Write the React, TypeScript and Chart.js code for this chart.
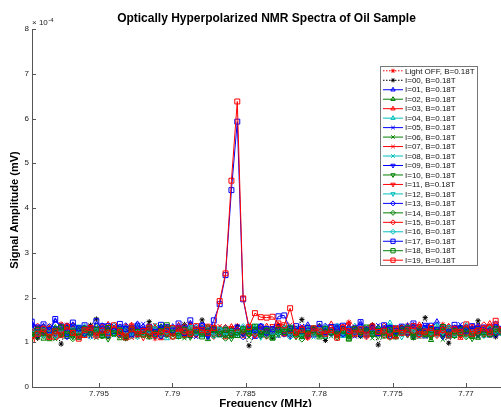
import React, { useEffect, useRef } from 'react';
import { Chart, registerables } from 'chart.js';
import { drawPoint } from 'chart.js/helpers';

Chart.register(...registerables);

// Frequency (MHz) of every sample
const FREQUENCIES = [
  7.79958, 7.79918, 7.79878, 7.79838, 7.79798, 7.79758, 7.79718, 7.79678, 7.79638, 7.79598,
  7.79558, 7.79518, 7.79478, 7.79438, 7.79398, 7.79358, 7.79318, 7.79278, 7.79238, 7.79198,
  7.79158, 7.79118, 7.79078, 7.79038, 7.78998, 7.78958, 7.78918, 7.78878, 7.78838, 7.78798,
  7.78758, 7.78718, 7.78678, 7.78638, 7.78598, 7.78558, 7.78518, 7.78478, 7.78438, 7.78398,
  7.78358, 7.78318, 7.78278, 7.78238, 7.78198, 7.78158, 7.78118, 7.78078, 7.78038, 7.77998,
  7.77958, 7.77918, 7.77878, 7.77838, 7.77798, 7.77758, 7.77718, 7.77678, 7.77638, 7.77598,
  7.77558, 7.77518, 7.77478, 7.77438, 7.77398, 7.77358, 7.77318, 7.77278, 7.77238, 7.77198,
  7.77158, 7.77118, 7.77078, 7.77038, 7.76998, 7.76958, 7.76918, 7.76878, 7.76838, 7.76798,
  7.76758,
];

// Signal amplitude, in units of 1e-4 mV
const LIGHT_OFF = [
  1.18, 1.32, 1.25, 1.10, 1.28, 1.41, 1.22, 1.15, 1.30, 1.24,
  1.36, 1.19, 1.27, 1.12, 1.33, 1.21, 1.29, 1.38, 1.16, 1.25,
  1.31, 1.08, 1.26, 1.35, 1.20, 1.14, 1.29, 1.42, 1.23, 1.17,
  1.34, 1.26, 1.19, 1.30, 1.24, 1.37, 1.15, 1.28, 1.21, 1.33,
  1.12, 1.27, 1.39, 1.22, 1.18, 1.31, 1.25, 1.09, 1.29, 1.36,
  1.20, 1.26, 1.14, 1.32, 1.45, 1.23, 1.17, 1.28, 1.35, 1.19,
  1.24, 1.30, 1.11, 1.27, 1.38, 1.22, 1.16, 1.33, 1.25, 1.29,
  1.40, 1.18, 1.26, 1.13, 1.31, 1.24, 1.37, 1.20, 1.28, 1.15, 1.32,
];
const I00 = [
  1.22, 1.09, 1.30, 1.17, 1.26, 0.96, 1.35, 1.20, 1.13, 1.28,
  1.38, 1.52, 1.24, 1.15, 1.31, 1.19, 1.08, 1.27, 1.34, 1.21,
  1.46, 1.25, 1.12, 1.29, 1.18, 1.33, 1.40, 1.23, 1.16, 1.50,
  1.26, 1.20, 1.31, 1.14, 1.27, 1.35, 1.22, 0.92, 1.18, 1.30,
  1.25, 1.11, 1.37, 1.24, 1.19, 1.28, 1.51, 1.16, 1.32, 1.21,
  1.04, 1.27, 1.34, 1.18, 1.23, 1.30, 1.13, 1.26, 1.39, 0.94,
  1.22, 1.29, 1.17, 1.35, 1.24, 1.10, 1.31, 1.55, 1.20, 1.27,
  1.15, 0.98, 1.26, 1.33, 1.21, 1.18, 1.48, 1.24, 1.30, 1.12, 1.28,
];
const I01 = [
  1.42, 1.30, 1.36, 1.25, 1.48, 1.33, 1.21, 1.39, 1.27, 1.18,
  1.31, 1.24, 1.37, 1.20, 1.29, 1.15, 1.34, 1.26, 1.41, 1.22,
  1.17, 1.32, 1.28, 1.19, 1.35, 1.23, 1.30, 1.14, 1.27, 1.38,
  1.21, 1.29, 1.16, 1.33, 1.25, 1.19, 1.31, 1.24, 1.12, 1.36,
  1.28, 1.20, 1.34, 1.26, 1.18, 1.30, 1.23, 1.39, 1.15, 1.27,
  1.32, 1.21, 1.29, 1.17, 1.35, 1.24, 1.42, 1.19, 1.28, 1.33,
  1.22, 1.16, 1.30, 1.26, 1.37, 1.20, 1.25, 1.13, 1.31, 1.46,
  1.23, 1.29, 1.18, 1.34, 1.27, 1.21, 1.36, 1.24, 1.15, 1.30, 1.26,
];
const I02 = [
  1.15, 1.27, 1.08, 1.21, 1.33, 1.19, 1.12, 1.25, 1.30, 1.17,
  1.23, 1.36, 1.14, 1.28, 1.20, 1.09, 1.26, 1.32, 1.18, 1.24,
  1.11, 1.29, 1.35, 1.16, 1.22, 1.27, 1.13, 1.31, 1.20, 1.25,
  1.07, 1.23, 1.30, 1.18, 1.26, 1.14, 1.29, 1.21, 1.34, 1.17,
  1.24, 1.10, 1.28, 1.19, 1.32, 1.23, 1.15, 1.27, 1.20, 1.36,
  1.12, 1.25, 1.18, 1.30, 1.08, 1.22, 1.28, 1.16, 1.24, 1.31,
  1.19, 1.26, 1.11, 1.29, 1.21, 1.34, 1.17, 1.23, 1.05, 1.27,
  1.20, 1.32, 1.14, 1.25, 1.18, 1.29, 1.10, 1.24, 1.33, 1.19, 1.26,
];
const I03 = [
  1.25, 1.18, 1.34, 1.22, 1.10, 1.29, 1.37, 1.20, 1.26, 1.14,
  1.31, 1.23, 1.17, 1.40, 1.28, 1.21, 1.35, 1.13, 1.27, 1.19,
  1.32, 1.24, 1.09, 1.30, 1.22, 1.38, 1.16, 1.26, 1.21, 1.33,
  1.18, 1.29, 1.25, 1.11, 1.35, 1.23, 1.30, 1.19, 1.27, 1.14,
  1.36, 1.22, 1.28, 1.17, 1.31, 1.25, 1.12, 1.34, 1.20, 1.29,
  1.24, 1.41, 1.18, 1.26, 1.33, 1.15, 1.28, 1.22, 1.37, 1.19,
  1.30, 1.25, 1.13, 1.32, 1.21, 1.27, 1.39, 1.16, 1.24, 1.31,
  1.20, 1.35, 1.23, 1.10, 1.28, 1.34, 1.18, 1.26, 1.42, 1.21, 1.29,
];
const I04 = [
  1.28, 1.21, 1.15, 1.33, 1.26, 1.19, 1.30, 1.24, 1.12, 1.35,
  1.22, 1.29, 1.17, 1.26, 1.38, 1.20, 1.14, 1.31, 1.25, 1.18,
  1.34, 1.27, 1.21, 1.09, 1.30, 1.24, 1.36, 1.19, 1.28, 1.15,
  1.25, 1.32, 1.20, 1.27, 1.13, 1.29, 1.23, 1.37, 1.18, 1.26,
  1.31, 1.16, 1.24, 1.35, 1.21, 1.28, 1.11, 1.30, 1.25, 1.19,
  1.33, 1.22, 1.27, 1.14, 1.29, 1.36, 1.20, 1.24, 1.17, 1.31,
  1.26, 1.43, 1.19, 1.28, 1.23, 1.15, 1.32, 1.25, 1.20, 1.34,
  1.27, 1.12, 1.30, 1.22, 1.38, 1.17, 1.25, 1.31, 1.19, 1.27, 1.23,
];
const I05 = [
  1.20, 1.34, 1.27, 1.16, 1.31, 1.24, 1.39, 1.18, 1.29, 1.22,
  1.13, 1.33, 1.26, 1.20, 1.36, 1.23, 1.30, 1.15, 1.28, 1.41,
  1.19, 1.25, 1.32, 1.17, 1.27, 1.21, 1.35, 1.24, 1.12, 1.30,
  1.26, 1.37, 1.20, 1.29, 1.16, 1.31, 1.23, 1.28, 1.18, 1.34,
  1.22, 1.27, 1.14, 1.32, 1.25, 1.19, 1.36, 1.21, 1.30, 1.24,
  1.17, 1.29, 1.35, 1.22, 1.26, 1.13, 1.31, 1.27, 1.20, 1.38,
  1.24, 1.18, 1.33, 1.25, 1.29, 1.16, 1.23, 1.36, 1.21, 1.28,
  1.32, 1.19, 1.26, 1.40, 1.22, 1.30, 1.15, 1.27, 1.24, 1.35, 1.20,
];
const I06 = [
  1.12, 1.24, 1.19, 1.30, 1.07, 1.26, 1.21, 1.15, 1.33, 1.18,
  1.25, 1.10, 1.28, 1.22, 1.16, 1.31, 1.20, 1.27, 1.13, 1.24,
  1.29, 1.18, 1.35, 1.21, 1.14, 1.26, 1.09, 1.30, 1.23, 1.17,
  1.28, 1.20, 1.25, 1.32, 1.15, 1.22, 1.27, 1.11, 1.29, 1.24,
  1.19, 1.33, 1.16, 1.26, 1.21, 1.30, 1.12, 1.25, 1.18, 1.28,
  1.23, 1.14, 1.31, 1.20, 1.27, 1.17, 1.24, 1.34, 1.09, 1.26,
  1.21, 1.28, 1.16, 1.23, 1.30, 1.19, 1.25, 1.13, 1.29, 1.22,
  1.06, 1.27, 1.20, 1.32, 1.17, 1.24, 1.11, 1.28, 1.23, 1.19, 1.25,
];
const I07 = [
  1.31, 1.19, 1.26, 1.37, 1.22, 1.14, 1.29, 1.33, 1.21, 1.27,
  1.16, 1.30, 1.24, 1.35, 1.18, 1.28, 1.23, 1.10, 1.32, 1.26,
  1.20, 1.38, 1.25, 1.17, 1.29, 1.34, 1.22, 1.27, 1.15, 1.31,
  1.24, 1.20, 1.36, 1.28, 1.19, 1.25, 1.13, 1.30, 1.23, 1.33,
  1.27, 1.18, 1.29, 1.24, 1.39, 1.21, 1.26, 1.16, 1.32, 1.25,
  1.19, 1.30, 1.23, 1.28, 1.14, 1.35, 1.26, 1.21, 1.29, 1.17,
  1.33, 1.24, 1.27, 1.20, 1.31, 1.25, 1.12, 1.28, 1.36, 1.22,
  1.26, 1.18, 1.32, 1.27, 1.21, 1.37, 1.24, 1.15, 1.30, 1.25, 1.22,
];
const I08 = [
  1.23, 1.30, 1.17, 1.26, 1.20, 1.34, 1.28, 1.13, 1.25, 1.31,
  1.19, 1.27, 1.22, 1.15, 1.33, 1.24, 1.29, 1.18, 1.36, 1.21,
  1.26, 1.12, 1.30, 1.23, 1.28, 1.17, 1.32, 1.25, 1.20, 1.35,
  1.22, 1.27, 1.14, 1.29, 1.24, 1.31, 1.19, 1.26, 1.37, 1.21,
  1.28, 1.16, 1.25, 1.30, 1.20, 1.33, 1.23, 1.27, 1.11, 1.29,
  1.24, 1.19, 1.32, 1.26, 1.21, 1.28, 1.15, 1.34, 1.22, 1.27,
  1.18, 1.30, 1.25, 1.20, 1.35, 1.23, 1.28, 1.16, 1.26, 1.21,
  1.31, 1.24, 1.17, 1.29, 1.33, 1.20, 1.26, 1.22, 1.14, 1.28, 1.25,
];
const I09 = [
  1.35, 1.22, 1.29, 1.18, 1.31, 1.26, 1.13, 1.28, 1.34, 1.20,
  1.27, 1.23, 1.38, 1.16, 1.25, 1.30, 1.21, 1.33, 1.19, 1.27,
  1.24, 1.15, 1.29, 1.36, 1.22, 1.26, 1.31, 1.18, 1.24, 1.28,
  1.12, 1.30, 1.25, 1.21, 1.27, 1.35, 1.19, 1.23, 1.29, 1.17,
  1.32, 1.25, 1.20, 1.28, 1.14, 1.26, 1.33, 1.22, 1.27, 1.19,
  1.30, 1.24, 1.37, 1.18, 1.25, 1.21, 1.29, 1.15, 1.31, 1.26,
  1.20, 1.34, 1.23, 1.27, 1.17, 1.30, 1.24, 1.39, 1.21, 1.26,
  1.13, 1.28, 1.33, 1.22, 1.25, 1.19, 1.31, 1.27, 1.23, 1.36, 1.24,
];
const I10 = [
  1.09, 1.21, 1.28, 1.15, 1.24, 1.18, 1.31, 1.12, 1.26, 1.20,
  1.29, 1.16, 1.23, 1.07, 1.27, 1.21, 1.14, 1.30, 1.19, 1.25,
  1.13, 1.28, 1.22, 1.17, 1.32, 1.20, 1.26, 1.11, 1.24, 1.19,
  1.30, 1.15, 1.27, 1.22, 1.08, 1.25, 1.18, 1.29, 1.21, 1.14,
  1.26, 1.31, 1.17, 1.23, 1.28, 1.12, 1.25, 1.20, 1.33, 1.16,
  1.22, 1.27, 1.10, 1.24, 1.19, 1.30, 1.15, 1.26, 1.21, 1.13,
  1.28, 1.18, 1.25, 1.32, 1.16, 1.23, 1.20, 1.29, 1.11, 1.24,
  1.19, 1.26, 1.14, 1.30, 1.22, 1.08, 1.27, 1.17, 1.25, 1.21, 1.28,
];
const I11 = [
  1.27, 1.33, 1.20, 1.25, 1.16, 1.30, 1.23, 1.38, 1.19, 1.28,
  1.22, 1.14, 1.32, 1.26, 1.21, 1.35, 1.17, 1.29, 1.24, 1.10,
  1.31, 1.25, 1.19, 1.28, 1.34, 1.22, 1.16, 1.30, 1.26, 1.21,
  1.37, 1.24, 1.18, 1.27, 1.32, 1.20, 1.29, 1.23, 1.15, 1.31,
  1.25, 1.36, 1.21, 1.28, 1.17, 1.24, 1.30, 1.13, 1.27, 1.33,
  1.22, 1.18, 1.29, 1.25, 1.40, 1.20, 1.26, 1.31, 1.19, 1.24,
  1.15, 1.28, 1.34, 1.22, 1.27, 1.20, 1.36, 1.24, 1.18, 1.30,
  1.25, 1.21, 1.33, 1.16, 1.28, 1.23, 1.29, 1.19, 1.35, 1.26, 1.20,
];
const I12 = [
  1.18, 1.26, 1.32, 1.21, 1.14, 1.28, 1.24, 1.19, 1.35, 1.22,
  1.27, 1.15, 1.30, 1.23, 1.18, 1.26, 1.33, 1.20, 1.12, 1.29,
  1.25, 1.31, 1.17, 1.24, 1.28, 1.13, 1.26, 1.34, 1.21, 1.19,
  1.27, 1.22, 1.30, 1.16, 1.25, 1.20, 1.32, 1.24, 1.28, 1.11,
  1.23, 1.29, 1.18, 1.26, 1.35, 1.21, 1.17, 1.28, 1.24, 1.30,
  1.14, 1.27, 1.22, 1.19, 1.31, 1.25, 1.20, 1.29, 1.16, 1.23,
  1.33, 1.21, 1.26, 1.12, 1.28, 1.24, 1.19, 1.30, 1.25, 1.17,
  1.22, 1.34, 1.27, 1.20, 1.15, 1.29, 1.23, 1.31, 1.18, 1.26, 1.21,
];
const I13 = [
  1.30, 1.17, 1.24, 1.35, 1.20, 1.27, 1.13, 1.31, 1.25, 1.19,
  1.33, 1.22, 1.28, 1.16, 1.26, 1.21, 1.37, 1.24, 1.18, 1.30,
  1.23, 1.29, 1.14, 1.27, 1.20, 1.32, 1.25, 1.19, 1.34, 1.22,
  1.16, 1.28, 1.24, 1.31, 1.21, 1.26, 1.12, 1.29, 1.23, 1.35,
  1.20, 1.27, 1.33, 1.18, 1.25, 1.22, 1.30, 1.15, 1.28, 1.24,
  1.36, 1.21, 1.26, 1.19, 1.31, 1.23, 1.17, 1.29, 1.25, 1.20,
  1.27, 1.14, 1.32, 1.24, 1.21, 1.38, 1.19, 1.26, 1.30, 1.23,
  1.28, 1.16, 1.25, 1.21, 1.34, 1.27, 1.20, 1.24, 1.29, 1.17, 1.26,
];
const I14 = [
  1.20, 1.13, 1.27, 1.22, 1.29, 1.16, 1.24, 1.08, 1.26, 1.31,
  1.18, 1.23, 1.14, 1.28, 1.21, 1.25, 1.10, 1.29, 1.19, 1.24,
  1.17, 1.30, 1.22, 1.26, 1.12, 1.27, 1.20, 1.15, 1.28, 1.23,
  1.33, 1.19, 1.24, 1.09, 1.26, 1.21, 1.29, 1.17, 1.25, 1.22,
  1.14, 1.28, 1.20, 1.31, 1.18, 1.24, 1.07, 1.27, 1.22, 1.16,
  1.29, 1.23, 1.19, 1.26, 1.13, 1.30, 1.21, 1.25, 1.18, 1.32,
  1.24, 1.11, 1.27, 1.20, 1.26, 1.15, 1.29, 1.22, 1.17, 1.25,
  1.30, 1.19, 1.23, 1.28, 1.12, 1.26, 1.21, 1.16, 1.27, 1.24, 1.20,
];
const I15 = [
  1.24, 1.36, 1.21, 1.29, 1.18, 1.33, 1.26, 1.22, 1.14, 1.31,
  1.27, 1.19, 1.34, 1.24, 1.30, 1.17, 1.25, 1.38, 1.21, 1.28,
  1.15, 1.32, 1.26, 1.20, 1.29, 1.23, 1.35, 1.18, 1.27, 1.22,
  1.30, 1.13, 1.25, 1.33, 1.19, 1.28, 1.24, 1.31, 1.16, 1.27,
  1.22, 1.29, 1.37, 1.20, 1.26, 1.14, 1.32, 1.25, 1.19, 1.30,
  1.23, 1.27, 1.17, 1.34, 1.24, 1.29, 1.21, 1.12, 1.28, 1.25,
  1.36, 1.20, 1.26, 1.31, 1.18, 1.24, 1.33, 1.22, 1.27, 1.15,
  1.29, 1.35, 1.21, 1.25, 1.19, 1.30, 1.24, 1.39, 1.17, 1.28, 1.23,
];
const I16 = [
  1.26, 1.19, 1.31, 1.24, 1.16, 1.28, 1.22, 1.34, 1.20, 1.27,
  1.13, 1.25, 1.30, 1.18, 1.23, 1.32, 1.26, 1.15, 1.29, 1.21,
  1.27, 1.36, 1.19, 1.24, 1.30, 1.17, 1.25, 1.22, 1.33, 1.20,
  1.28, 1.14, 1.26, 1.31, 1.23, 1.19, 1.35, 1.24, 1.21, 1.29,
  1.17, 1.26, 1.22, 1.30, 1.12, 1.27, 1.24, 1.33, 1.20, 1.25,
  1.29, 1.18, 1.36, 1.23, 1.26, 1.21, 1.31, 1.16, 1.28, 1.24,
  1.20, 1.27, 1.32, 1.19, 1.25, 1.30, 1.14, 1.26, 1.22, 1.37,
  1.23, 1.28, 1.18, 1.24, 1.31, 1.21, 1.27, 1.15, 1.30, 1.25, 1.20,
];
const I17 = [
  1.46, 1.33, 1.40, 1.27, 1.52, 1.35, 1.24, 1.44, 1.31, 1.38,
  1.22, 1.47, 1.29, 1.36, 1.25, 1.41, 1.30, 1.19, 1.37, 1.28,
  1.34, 1.23, 1.39, 1.30, 1.26, 1.42, 1.21, 1.49, 1.28, 1.37,
  1.24, 1.49, 1.85, 2.50, 4.40, 5.93, 1.96, 1.30, 1.27, 1.35,
  1.22, 1.29, 1.58, 1.60, 1.30, 1.36, 1.25, 1.32, 1.28, 1.41,
  1.23, 1.34, 1.29, 1.37, 1.26, 1.31, 1.45, 1.27, 1.33, 1.21,
  1.38, 1.30, 1.25, 1.35, 1.29, 1.42, 1.24, 1.32, 1.37, 1.27,
  1.34, 1.22, 1.39, 1.31, 1.26, 1.36, 1.29, 1.33, 1.24, 1.40, 1.30,
];
const I18 = [
  1.16, 1.28, 1.21, 1.09, 1.25, 1.33, 1.18, 1.24, 1.12, 1.30,
  1.22, 1.27, 1.15, 1.32, 1.20, 1.26, 1.11, 1.29, 1.23, 1.17,
  1.31, 1.19, 1.25, 1.38, 1.21, 1.14, 1.28, 1.22, 1.26, 1.13,
  1.24, 1.30, 1.18, 1.27, 1.21, 1.16, 1.29, 1.25, 1.35, 1.19,
  1.26, 1.10, 1.28, 1.23, 1.31, 1.17, 1.24, 1.20, 1.27, 1.13,
  1.30, 1.22, 1.18, 1.26, 1.08, 1.29, 1.23, 1.33, 1.19, 1.25,
  1.15, 1.28, 1.21, 1.26, 1.31, 1.12, 1.24, 1.19, 1.27, 1.22,
  1.34, 1.17, 1.25, 1.20, 1.29, 1.14, 1.26, 1.23, 1.18, 1.30, 1.24,
];
const I19 = [
  1.05, 1.19, 1.30, 1.12, 1.24, 1.17, 1.35, 1.21, 1.08, 1.27,
  1.32, 1.15, 1.26, 1.20, 1.38, 1.23, 1.11, 1.29, 1.18, 1.25,
  1.33, 1.16, 1.22, 1.28, 1.13, 1.31, 1.24, 1.19, 1.36, 1.27,
  1.21, 1.32, 1.92, 2.54, 4.61, 6.38, 1.98, 1.34, 1.65, 1.56,
  1.55, 1.57, 1.42, 1.38, 1.76, 1.22, 1.28, 1.15, 1.31, 1.24,
  1.19, 1.27, 1.10, 1.33, 1.25, 1.20, 1.29, 1.17, 1.35, 1.23,
  1.26, 1.13, 1.30, 1.21, 1.28, 1.36, 1.18, 1.24, 1.32, 1.20,
  1.27, 1.15, 1.29, 1.23, 1.40, 1.19, 1.26, 1.31, 1.22, 1.48, 1.28,
];

const SERIES_LABELS = [
  'Light OFF, B=0.18T', 'I=00, B=0.18T', 'I=01, B=0.18T', 'I=02, B=0.18T', 'I=03, B=0.18T',
  'I=04, B=0.18T', 'I=05, B=0.18T', 'I=06, B=0.18T', 'I=07, B=0.18T', 'I=08, B=0.18T',
  'I=09, B=0.18T', 'I=10, B=0.18T', 'I=11, B=0.18T', 'I=12, B=0.18T', 'I=13, B=0.18T',
  'I=14, B=0.18T', 'I=15, B=0.18T', 'I=16, B=0.18T', 'I=17, B=0.18T', 'I=18, B=0.18T',
  'I=19, B=0.18T',
];
const SERIES_VALUES = [
  LIGHT_OFF, I00, I01, I02, I03, I04, I05, I06, I07, I08, I09,
  I10, I11, I12, I13, I14, I15, I16, I17, I18, I19,
];

const Y_TICKS = [0, 1, 2, 3, 4, 5, 6, 7, 8];
const X_TICKS = [7.795, 7.79, 7.785, 7.78, 7.775, 7.77];
const X_TICK_LABELS = ['7.795', '7.79', '7.785', '7.78', '7.775', '7.77'];
const TITLE = 'Optically Hyperpolarized NMR Spectra of Oil Sample';
const X_TITLE = 'Frequency (MHz)';
const Y_TITLE = 'Signal Amplitude (mV)';

// ---- styles ----
const FONT = '"Liberation Sans", Arial, Helvetica, sans-serif';
const BLUE = '#0000ff';
const GREEN = '#008000';
const RED = '#ff0000';
const CYAN = '#00bfbf';
const CYCLE = [BLUE, GREEN, RED, CYAN];
const MARKER_GROUPS = [
  { style: 'triangle', rotation: 0, radius: 3 },
  { style: 'crossRot', rotation: 0, radius: 3 },
  { style: 'triangle', rotation: 180, radius: 3 },
  { style: 'rectRot', rotation: 0, radius: 3 },
  { style: 'rect', rotation: 0, radius: 3.5 },
];

type Sty = { color: string; dash: number[]; style: string; rotation: number; radius: number };
const STYLES: Sty[] = SERIES_LABELS.map((_, i) => {
  if (i === 0) return { color: RED, dash: [1.5, 1.5], style: 'star', rotation: 0, radius: 2.6 };
  if (i === 1) return { color: '#000000', dash: [1.5, 1.5], style: 'star', rotation: 0, radius: 2.6 };
  const k = i - 2;
  const g = MARKER_GROUPS[Math.min(4, Math.floor(k / 4))];
  return { color: CYCLE[k % 4], dash: [], style: g.style, rotation: g.rotation, radius: g.radius };
});

const decorPlugin = {
  id: 'decor',
  afterDraw(chart: any) {
    const ctx: CanvasRenderingContext2D = chart.ctx;
    const area = chart.chartArea;
    const xs = chart.scales.x;
    const ys = chart.scales.y;
    ctx.save();
    // inward ticks
    ctx.strokeStyle = '#555';
    ctx.lineWidth = 1;
    ctx.beginPath();
    Y_TICKS.forEach((v) => {
      const y = Math.round(ys.getPixelForValue(v)) + 0.5;
      ctx.moveTo(area.left, y);
      ctx.lineTo(area.left + 4, y);
    });
    X_TICKS.forEach((v) => {
      const x = Math.round(xs.getPixelForValue(v)) + 0.5;
      ctx.moveTo(x, area.bottom);
      ctx.lineTo(x, area.bottom - 4);
    });
    ctx.stroke();

    // multiplier
    ctx.fillStyle = '#222';
    ctx.textAlign = 'left';
    ctx.textBaseline = 'alphabetic';
    ctx.font = `8px ${FONT}`;
    ctx.fillText('× 10', area.left, area.top - 4);
    const w = ctx.measureText('× 10').width;
    ctx.font = `6px ${FONT}`;
    ctx.fillText('-4', area.left + w + 0.5, area.top - 7);

    // titles
    ctx.fillStyle = '#000';
    ctx.font = `bold 12px ${FONT}`;
    ctx.textAlign = 'center';
    ctx.textBaseline = 'middle';
    ctx.fillText(TITLE, (area.left + area.right) / 2, 18.5);
    ctx.font = `bold 11.5px ${FONT}`;
    ctx.textBaseline = 'top';
    ctx.fillText(X_TITLE, (area.left + area.right) / 2 - 1, 398);
    ctx.save();
    ctx.translate(15, (area.top + area.bottom) / 2 + 2);
    ctx.rotate(-Math.PI / 2);
    ctx.textBaseline = 'middle';
    ctx.font = `bold 11px ${FONT}`;
    ctx.fillText(Y_TITLE, 0, 0);
    ctx.restore();

    // legend
    const bx = 380.5, by = 66.5, bw = 97, bh = 199;
    ctx.fillStyle = '#fff';
    ctx.fillRect(bx, by, bw, bh);
    ctx.strokeStyle = '#777';
    ctx.lineWidth = 1;
    ctx.strokeRect(bx, by, bw, bh);
    const row0 = 70.8, dy = 9.47;
    SERIES_LABELS.forEach((lab, i) => {
      const st = STYLES[i];
      const y = row0 + i * dy;
      ctx.save();
      ctx.strokeStyle = st.color;
      ctx.lineWidth = 1;
      ctx.setLineDash(st.dash);
      ctx.beginPath();
      ctx.moveTo(383, y);
      ctx.lineTo(403, y);
      ctx.stroke();
      ctx.setLineDash([]);
      ctx.fillStyle = 'rgba(0,0,0,0)';
      drawPoint(ctx, { pointStyle: st.style as any, rotation: st.rotation, radius: st.radius - 0.5, borderWidth: 1 } as any, 393, y);
      ctx.restore();
      ctx.fillStyle = '#111';
      ctx.font = `8px ${FONT}`;
      ctx.textAlign = 'left';
      ctx.textBaseline = 'middle';
      ctx.fillText(lab, 405, y + 0.5);
    });
    ctx.restore();
  },
};

export default function App() {
  const ref = useRef<HTMLCanvasElement | null>(null);
  useEffect(() => {
    document.body.style.margin = '0';
    const canvas = ref.current;
    if (!canvas) return;
    const datasets = SERIES_VALUES.map((vals, i) => {
      const st = STYLES[i];
      return {
        label: SERIES_LABELS[i],
        data: FREQUENCIES.map((f, j) => ({ x: f, y: vals[j] })),
        borderColor: st.color,
        borderWidth: 1,
        borderDash: st.dash,
        pointStyle: st.style,
        pointRotation: st.rotation,
        pointRadius: st.radius,
        pointBorderColor: st.color,
        pointBackgroundColor: 'rgba(0,0,0,0)',
        pointBorderWidth: 1,
        tension: 0,
        fill: false,
        order: SERIES_LABELS.length - 1 - i,
      };
    });
    const chart = new Chart(canvas, {
      type: 'line',
      data: { datasets },
      options: {
        animation: false,
        responsive: false,
        maintainAspectRatio: false,
        devicePixelRatio: 1,
        events: [],
        layout: { autoPadding: false, padding: { top: 29, left: 0, right: 0, bottom: 0 } },
        plugins: { legend: { display: false }, title: { display: false }, tooltip: { enabled: false } },
        scales: {
          x: {
            type: 'linear',
            reverse: true,
            min: 7.767616,
            max: 7.799564,
            grid: { display: false, drawTicks: false },
            border: { display: true, color: '#555', width: 1 },
            afterBuildTicks: (s: any) => {
              s.ticks = X_TICKS.map((v) => ({ value: v }));
            },
            afterFit: (s: any) => {
              s.height = 20;
            },
            ticks: {
              autoSkip: false,
              maxRotation: 0,
              padding: 2,
              color: '#222',
              font: { family: FONT, size: 8 },
              callback: (v: any) => {
                const idx = X_TICKS.findIndex((t) => Math.abs(t - Number(v)) < 1e-7);
                return idx >= 0 ? X_TICK_LABELS[idx] : '';
              },
            },
          },
          y: {
            type: 'linear',
            min: 0,
            max: 8,
            grid: { display: false, drawTicks: false },
            border: { display: true, color: '#555', width: 1 },
            afterBuildTicks: (s: any) => {
              s.ticks = Y_TICKS.map((v) => ({ value: v }));
            },
            afterFit: (s: any) => {
              s.width = 32;
            },
            ticks: {
              padding: 3,
              color: '#222',
              font: { family: FONT, size: 8 },
              callback: (v: any) => String(v),
            },
          },
        },
      },
      plugins: [decorPlugin],
    } as any);
    return () => chart.destroy();
  }, []);
  return (
    <div style={{ position: 'absolute', left: 0, top: 0, width: 501, height: 407, background: '#fff' }}>
      <canvas ref={ref} width={501} height={407} />
    </div>
  );
}
